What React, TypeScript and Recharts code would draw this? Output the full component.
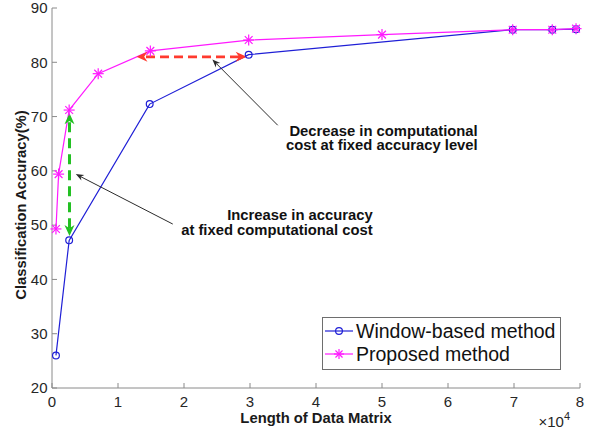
import React from 'react'
import { LineChart, Line, XAxis, YAxis, ReferenceLine, ReferenceDot, Legend, Label } from 'recharts'

const FONT = '"Liberation Sans", Arial, Helvetica, sans-serif'

const xTicks = [0, 10000, 20000, 30000, 40000, 50000, 60000, 70000, 80000]
const yTicks = [20, 30, 40, 50, 60, 70, 80, 90]

const windowLength = [600, 2600, 14800, 29800, 69800, 75800, 79400]
const windowAccuracy = [26, 47.2, 72.3, 81.4, 86, 86, 86.1]

const proposedLength = [600, 1000, 2600, 7000, 14900, 29800, 50000, 69800, 75800, 79400]
const proposedAccuracy = [49.3, 59.4, 71.2, 77.9, 82.1, 84.1, 85.1, 86, 86, 86.2]

const windowData = windowLength.map((x, i) => ({ x, y: windowAccuracy[i] }))
const proposedData = proposedLength.map((x, i) => ({ x, y: proposedAccuracy[i] }))

// annotation arrows, in data coordinates (from -> to, head at "to")
const arrows = [
  { x1: 29500, y1: 81, x2: 12800, y2: 81, color: '#ff3a2e', width: 2.8, dash: '9 5', both: true, len: 11, half: 5 },
  { x1: 2650, y1: 48, x2: 2650, y2: 70.6, color: '#22c022', width: 3, dash: '10 6', both: true, len: 11, half: 5 },
  { x1: 34200, y1: 68.4, x2: 24300, y2: 80.5, color: '#2b2b2b', width: 1, dash: '', both: false, len: 8, half: 3.2 },
  { x1: 18300, y1: 50.2, x2: 3600, y2: 59.4, color: '#2b2b2b', width: 1, dash: '', both: false, len: 8, half: 3.2 },
]

const notes = [
  { x: 64500, y: 67.4, gap: 14.6, lines: ['Decrease in computational', 'cost at fixed accuracy level'] },
  { x: 48600, y: 51.9, gap: 14.6, lines: ['Increase in accuracy', 'at fixed computational cost'] },
]

const headPoints = (tx: number, ty: number, ux: number, uy: number, len: number, half: number) => {
  const notch = len * 0.3
  const bx = tx - ux * len
  const by = ty - uy * len
  const px = -uy
  const py = ux
  const nx = tx - ux * (len - notch)
  const ny = ty - uy * (len - notch)
  return `${tx},${ty} ${bx + px * half},${by + py * half} ${nx},${ny} ${bx - px * half},${by - py * half}`
}

const ArrowShape = (props: any) => {
  const { x1, y1, x2, y2, spec } = props
  const dx = x2 - x1
  const dy = y2 - y1
  const d = Math.sqrt(dx * dx + dy * dy) || 1
  const ux = dx / d
  const uy = dy / d
  const cut = spec.len * 0.7
  const sx = spec.both ? x1 + ux * cut : x1
  const sy = spec.both ? y1 + uy * cut : y1
  return (
    <g>
      <line x1={sx} y1={sy} x2={x2 - ux * cut} y2={y2 - uy * cut} stroke={spec.color} strokeWidth={spec.width} strokeDasharray={spec.dash || undefined} />
      <polygon points={headPoints(x2, y2, ux, uy, spec.len, spec.half)} fill={spec.color} />
      {spec.both && <polygon points={headPoints(x1, y1, -ux, -uy, spec.len, spec.half)} fill={spec.color} />}
    </g>
  )
}

const NoteShape = (props: any) => {
  const { cx, cy, note } = props
  return (
    <text x={cx} textAnchor='end' fontFamily={FONT} fontWeight='bold' fontSize={14.8} fill='#111'>
      {note.lines.map((t: string, i: number) => (
        <tspan key={i} x={cx} y={cy + i * note.gap} dy='0.35em'>{t}</tspan>
      ))}
    </text>
  )
}

const Asterisk = ({ cx, cy, color, r = 5.5 }: { cx: number; cy: number; color: string; r?: number }) => {
  const k = r * 0.707
  return (
    <g stroke={color} strokeWidth={1.2}>
      <line x1={cx - r} y1={cy} x2={cx + r} y2={cy} />
      <line x1={cx} y1={cy - r} x2={cx} y2={cy + r} />
      <line x1={cx - k} y1={cy - k} x2={cx + k} y2={cy + k} />
      <line x1={cx - k} y1={cy + k} x2={cx + k} y2={cy - k} />
    </g>
  )
}

const BLUE = '#1f1fd6'
const MAGENTA = '#ff1aff'

const LegendBox = () => (
  <svg width={240} height={54} style={{ display: 'block' }}>
    <rect x={0.5} y={0.5} width={238} height={52} fill='#fff' stroke='#6e6e6e' />
    <line x1={3} y1={14} x2={31} y2={14} stroke={BLUE} strokeWidth={1.2} />
    <circle cx={17} cy={14} r={3.4} fill='none' stroke={BLUE} strokeWidth={1.2} />
    <text x={34} y={14} dy='0.35em' fontFamily={FONT} fontSize={19.5} fill='#111'>Window-based method</text>
    <line x1={3} y1={37} x2={31} y2={37} stroke={MAGENTA} strokeWidth={1.2} />
    <Asterisk cx={17} cy={37} color={MAGENTA} r={5} />
    <text x={34} y={37} dy='0.35em' fontFamily={FONT} fontSize={19.5} fill='#111'>Proposed method</text>
  </svg>
)

const tickStyle = { fontSize: 15, fill: '#262626', fontFamily: FONT }
const AXIS = '#8a8a8a'

export default function App() {
  return (
    <div style={{ position: 'absolute', left: 0, top: 0, width: 596, height: 429, background: '#fff' }}>
      <LineChart width={596} height={429} data={windowData} margin={{ top: 8, right: 16, bottom: 0, left: 0 }}>
        <XAxis
          xAxisId='b'
          dataKey='x'
          type='number'
          domain={[0, 80000]}
          ticks={xTicks}
          tickFormatter={(v: number) => String(v / 10000)}
          height={41}
          stroke={AXIS}
          tickSize={-5}
          tickMargin={13}
          tick={tickStyle}
          interval={0}
        >
          <Label value='Length of Data Matrix' position='insideBottom' offset={6} style={{ fontSize: 14.8, fontWeight: 'bold', fill: '#1a1a1a', fontFamily: FONT }} />
          <Label
            content={(p: any) => {
              const vb = p.viewBox
              return (
                <text x={vb.x + vb.width - 10} y={427} textAnchor='end' fontFamily={FONT} fontSize={15} fill='#262626'>
                  ×10<tspan dy={-7} fontSize={11}>4</tspan>
                </text>
              )
            }}
          />
        </XAxis>
        <XAxis xAxisId='t' orientation='top' dataKey='x' type='number' domain={[0, 80000]} ticks={xTicks} height={0} stroke={AXIS} tickSize={-5} tick={false} />
        <YAxis
          yAxisId='l'
          type='number'
          domain={[20, 90]}
          ticks={yTicks}
          width={52}
          stroke={AXIS}
          tickSize={-5}
          tickMargin={9.5}
          tick={tickStyle}
          interval={0}
        >
          <Label
            content={(p: any) => {
              const vb = p.viewBox
              const cx = 21
              const cy = vb.y + vb.height / 2 + 7
              return (
                <text x={cx} y={cy} transform={`rotate(-90 ${cx} ${cy})`} textAnchor='middle' dy='0.35em' fontFamily={FONT} fontSize={14.8} fontWeight='bold' fill='#1a1a1a'>
                  Classification Accuracy(%)
                </text>
              )
            }}
          />
        </YAxis>
        <YAxis yAxisId='r' orientation='right' type='number' domain={[20, 90]} ticks={yTicks} width={0} stroke={AXIS} tickSize={-5} tick={false} />
        <Legend
          layout='horizontal'
          verticalAlign='middle'
          align='center'
          content={() => <LegendBox />}
          wrapperStyle={{ position: 'absolute', left: 322, top: 317, width: 240, height: 54 }}
        />
        <Line
          xAxisId='b'
          yAxisId='l'
          data={windowData}
          dataKey='y'
          name='Window-based method'
          stroke={BLUE}
          strokeWidth={1.2}
          dot={{ r: 3.4, fill: 'none', stroke: BLUE, strokeWidth: 1.2 }}
          isAnimationActive={false}
        />
        <Line
          xAxisId='b'
          yAxisId='l'
          data={proposedData}
          dataKey='y'
          name='Proposed method'
          stroke={MAGENTA}
          strokeWidth={1.2}
          dot={(p: any) => <Asterisk key={`s-${p.index}`} cx={p.cx} cy={p.cy} color={MAGENTA} />}
          isAnimationActive={false}
        />
        {arrows.map((a, i) => (
          <ReferenceLine
            key={`a-${i}`}
            xAxisId='b'
            yAxisId='l'
            segment={[{ x: a.x1, y: a.y1 }, { x: a.x2, y: a.y2 }]}
            ifOverflow='visible'
            shape={(p: any) => <ArrowShape {...p} spec={a} />}
          />
        ))}
        {notes.map((n, i) => (
          <ReferenceDot
            key={`n-${i}`}
            xAxisId='b'
            yAxisId='l'
            x={n.x}
            y={n.y}
            r={0}
            ifOverflow='visible'
            shape={(p: any) => <NoteShape {...p} note={n} />}
          />
        ))}
      </LineChart>
    </div>
  )
}
